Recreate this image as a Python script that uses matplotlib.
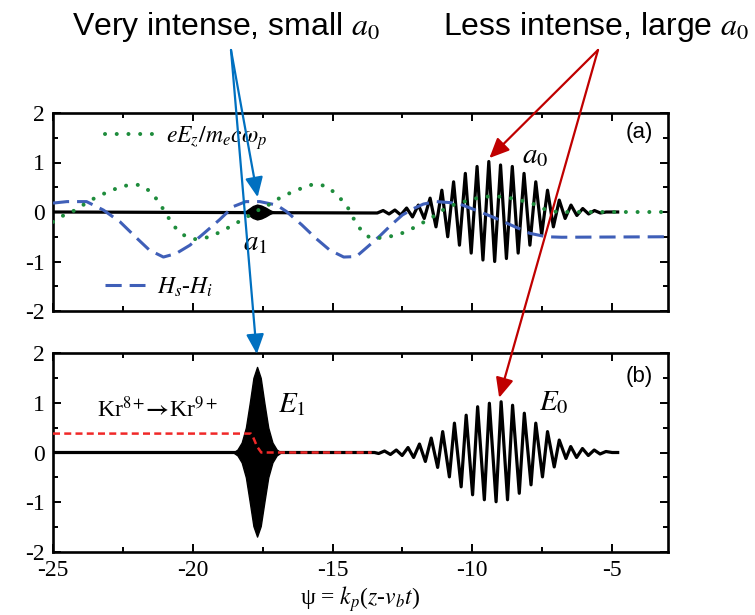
import matplotlib
matplotlib.use("Agg")
import matplotlib.pyplot as plt
from matplotlib.ticker import MultipleLocator

plt.rcParams["font.family"] = ["Liberation Serif", "DejaVu Serif"]
plt.rcParams["mathtext.fontset"] = "stix"
plt.rcParams["axes.unicode_minus"] = False

# ---- panel (a): wake field eEz/(me c wp), dotted green
green_psi = [-25, -24.6, -24.15, -23.75, -23.3, -22.9, -22.45, -21.9, -21.5, -21.2,
             -20.9, -20.65, -20.35, -19.95, -19.45, -19.0, -18.55, -18.15, -17.75, -17.3,
             -16.9, -16.5, -16.2, -15.7, -15.25, -14.9, -14.5, -14.25, -14.0, -13.65,
             -13.15, -12.6, -12.1, -11.5, -11.05, -10.65, -10.1, -9.7, -9.25, -8.8,
             -8.3, -7.85, -7.35, -6.95, -3]
green_val = [-0.20, -0.06, 0.05, 0.21, 0.34, 0.44, 0.53, 0.55, 0.41, 0.19,
             -0.09, -0.30, -0.46, -0.55, -0.51, -0.40, -0.26, -0.13, 0.01, 0.14,
             0.28, 0.39, 0.46, 0.56, 0.53, 0.38, 0.14, -0.13, -0.35, -0.53,
             -0.52, -0.45, -0.32, -0.13, 0.04, 0.15, 0.24, 0.30, 0.32, 0.30,
             0.24, 0.17, 0.04, 0.0, 0.0]

# ---- panel (a): Hs - Hi, dashed blue
blue_psi = [-25, -24.5, -23.8, -23.2, -22.6, -22.0, -21.55, -21.05, -20.6, -20.1,
            -19.6, -19.05, -18.55, -18.1, -17.6, -17.0, -16.65, -16.1, -15.6, -15.1,
            -14.6, -14.15, -13.7, -13.3, -12.9, -12.5, -12.1, -11.75, -11.3, -10.8,
            -10.35, -9.75, -9.15, -8.55, -7.95, -7.35, -6.8, -3]
blue_val = [0.18, 0.21, 0.21, 0.04, -0.20, -0.53, -0.77, -0.91, -0.84, -0.67,
            -0.43, -0.16, 0.11, 0.21, 0.21, 0.14, 0.01, -0.26, -0.53, -0.77,
            -0.91, -0.90, -0.68, -0.48, -0.26, -0.06, 0.07, 0.16, 0.21, 0.19,
            0.14, 0.01, -0.13, -0.28, -0.43, -0.50, -0.51, -0.50]

# ---- panel (a): driver a0, carrier extremes
a0_psi = [-13.40, -13.19, -12.98, -12.77, -12.56, -12.35, -12.14, -11.93, -11.72, -11.51,
          -11.30, -11.09, -10.88, -10.67, -10.46, -10.25, -10.04, -9.83, -9.62, -9.41,
          -9.20, -8.99, -8.78, -8.57, -8.36, -8.15, -7.94, -7.73, -7.52, -7.31,
          -7.10, -6.89, -6.68, -6.47, -6.26, -6.05, -5.84, -5.63, -5.42, -5.21]
a0_val = [-0.02, 0.03, -0.04, 0.04, -0.06, 0.08, -0.10, 0.14, -0.13, 0.28,
          -0.30, 0.44, -0.50, 0.61, -0.67, 0.78, -0.83, 0.92, -0.97, 1.02,
          -1.00, 0.95, -0.94, 0.92, -0.83, 0.78, -0.67, 0.61, -0.46, 0.44,
          -0.30, 0.24, -0.13, 0.14, -0.07, 0.07, -0.04, 0.03, -0.02, 0.0]

# ---- panel (a): generated pulse a1, envelope
a1_psi = [-18.15, -18.0, -17.85, -17.7, -17.55, -17.4, -17.25, -17.1]
a1_top = [0.0, 0.06, 0.12, 0.15, 0.13, 0.09, 0.04, 0.0]
a1_bot = [0.0, -0.06, -0.12, -0.15, -0.13, -0.09, -0.04, 0.0]

# ---- panel (b): E0, carrier extremes
E0_psi = [-13.50, -13.35, -13.14, -12.93, -12.72, -12.51, -12.30, -12.10, -11.89, -11.68,
          -11.47, -11.24, -11.06, -10.82, -10.64, -10.40, -10.22, -9.99, -9.81, -9.57,
          -9.39, -9.15, -8.97, -8.74, -8.56, -8.32, -8.14, -7.90, -7.73, -7.49,
          -7.31, -7.07, -6.89, -6.65, -6.48, -6.27, -6.06, -5.85, -5.64, -5.43,
          -5.22, -5.00]
E0_val = [0.0, -0.02, 0.03, -0.04, 0.05, -0.06, 0.10, -0.10, 0.17, -0.18,
          0.29, -0.30, 0.42, -0.49, 0.59, -0.69, 0.75, -0.85, 0.92, -0.95,
          0.99, -0.99, 1.02, -0.95, 0.95, -0.82, 0.79, -0.65, 0.59, -0.49,
          0.42, -0.29, 0.25, -0.12, 0.12, -0.10, 0.08, -0.06, 0.05, -0.03,
          0.02, 0.0]

# ---- panel (b): E1, envelope
E1_psi = [-18.55, -18.4, -18.25, -18.1, -17.96, -17.83, -17.7, -17.57, -17.44, -17.3,
          -17.15, -17.0, -16.85]
E1_top = [0.0, 0.06, 0.2, 0.5, 1.0, 1.5, 1.72, 1.5, 1.0, 0.5, 0.2, 0.06, 0.0]
E1_bot = [0.0, -0.06, -0.2, -0.5, -1.0, -1.48, -1.69, -1.48, -1.0, -0.5, -0.2, -0.06, 0.0]

# ---- panel (b): ionisation Kr8+ -> Kr9+, dashed red
kr_psi = [-25, -17.92, -17.85, -17.7, -17.55, -13.6]
kr_val = [0.38, 0.38, 0.32, 0.12, 0.0, 0.0]

xticks = [-25, -20, -15, -10, -5]
yticks = [-2, -1, 0, 1, 2]
line_end = -4.8

GREEN = "#1e8c3c"
BLUE = "#3f5fb8"
RED = "#f02828"
SERIF = ["Liberation Serif", "DejaVu Serif"]

fig = plt.figure(figsize=(7.55, 6.15), dpi=100)
ax_a = fig.add_axes([53 / 755, 1 - 311 / 615, 615 / 755, 198 / 615])
ax_b = fig.add_axes([53 / 755, 1 - 552 / 615, 615 / 755, 199 / 615])

for ax in (ax_a, ax_b):
    ax.set_xlim(-25, -3)
    ax.set_ylim(-2, 2)
    ax.set_xticks(xticks)
    ax.set_yticks(yticks)
    ax.set_xticklabels([str(t) for t in xticks], family=SERIF, fontsize=17)
    ax.set_yticklabels([str(t) for t in yticks], family=SERIF, fontsize=17)
    ax.xaxis.set_minor_locator(MultipleLocator(2.5))
    ax.yaxis.set_minor_locator(MultipleLocator(0.5))
    ax.tick_params(which="both", direction="in", top=True, right=True,
                   width=1.4, pad=6)
    ax.tick_params(which="major", length=6)
    ax.tick_params(which="minor", length=3.5)
    for s in ax.spines.values():
        s.set_linewidth(1.9)
ax_a.tick_params(labelbottom=False)

# (a)
ax_a.plot([-25] + a0_psi + [line_end], [0] + a0_val + [0], color="k", lw=2.3, zorder=2)
ax_a.fill_between(a1_psi, a1_bot, a1_top, color="k", lw=1, zorder=2)
(hb,) = ax_a.plot(blue_psi, blue_val, color=BLUE, lw=2.2, dashes=(5.3, 2.6), zorder=3)
(hg,) = ax_a.plot(green_psi, green_val, color=GREEN, lw=2.9, dashes=(0.01, 2.9),
                  dash_capstyle="round", zorder=4)

leg_g = ax_a.legend([hg], [r"$eE_z/m_e c\omega_p$"], loc="center left",
                    bbox_to_anchor=(0.0846, 0.874), frameon=False, fontsize=17,
                    handlelength=2.2, handletextpad=0.4, borderpad=0, borderaxespad=0)
ax_a.add_artist(leg_g)
ax_a.legend([hb], [r"$H_s$-$H_i$"], loc="center left",
            bbox_to_anchor=(0.0846, 0.121), frameon=False, fontsize=17,
            handlelength=1.7, handletextpad=0.5, borderpad=0, borderaxespad=0)

ax_a.text(-4.5, 1.6, "(a)", family="Liberation Sans", fontsize=16, va="center")
ax_a.text(-8.21, 0.98, r"$\mathit{a_0}$", fontsize=21, va="baseline")
ax_a.text(-18.21, -0.77, r"$\mathit{a_1}$", fontsize=21, va="baseline")

# (b)
ax_b.plot([-25] + E0_psi + [line_end], [0] + E0_val + [0], color="k", lw=2.3, zorder=2)
ax_b.fill_between(E1_psi, E1_bot, E1_top, color="k", lw=1, zorder=2)
ax_b.plot(kr_psi, kr_val, color=RED, lw=1.8, dashes=(2.8, 1.7), zorder=3)

ax_b.text(-4.5, 1.52, "(b)", family="Liberation Sans", fontsize=16, va="center")
ax_b.text(-23.43, 0.71, r"Kr$^{8+}$$\!\!\mathbf{\rightarrow}\!$Kr$^{9+}$", fontsize=17,
          va="baseline")
ax_b.text(-16.96, 0.81, r"$\mathit{E_1}$", fontsize=21, va="baseline")
ax_b.text(-7.61, 0.85, r"$\mathit{E_0}$", fontsize=21, va="baseline")
ax_b.set_xlabel(r"ψ = $k_p$($z$-$v_b t$)", fontsize=17, labelpad=2)

# headline annotations
fig.text(72 / 755, 1 - 35 / 615, r"Very intense, small $a_0$", family="Liberation Sans",
         fontsize=23, va="baseline")
fig.text(443 / 755, 1 - 35 / 615, r"Less intense, large $a_0$", family="Liberation Sans",
         fontsize=23, va="baseline")

blue_start = (231 / 755, 1 - 50 / 615)
red_start = (598 / 755, 1 - 50 / 615)
head = "-|>,head_length=1.0,head_width=0.45"
for ax, tip, start, col in [(ax_a, (-17.68, 0.30), blue_start, "#0070C0"),
                            (ax_b, (-17.71, 1.98), blue_start, "#0070C0"),
                            (ax_a, (-9.39, 1.09), red_start, "#C00000"),
                            (ax_b, (-9.04, 1.10), red_start, "#C00000")]:
    ax.annotate("", xy=tip, xycoords="data", xytext=start, textcoords="figure fraction",
                annotation_clip=False, zorder=10,
                arrowprops=dict(arrowstyle=head, color=col, lw=1.6, mutation_scale=12,
                                shrinkA=0, shrinkB=0))

fig.savefig("out.png", dpi=100)
